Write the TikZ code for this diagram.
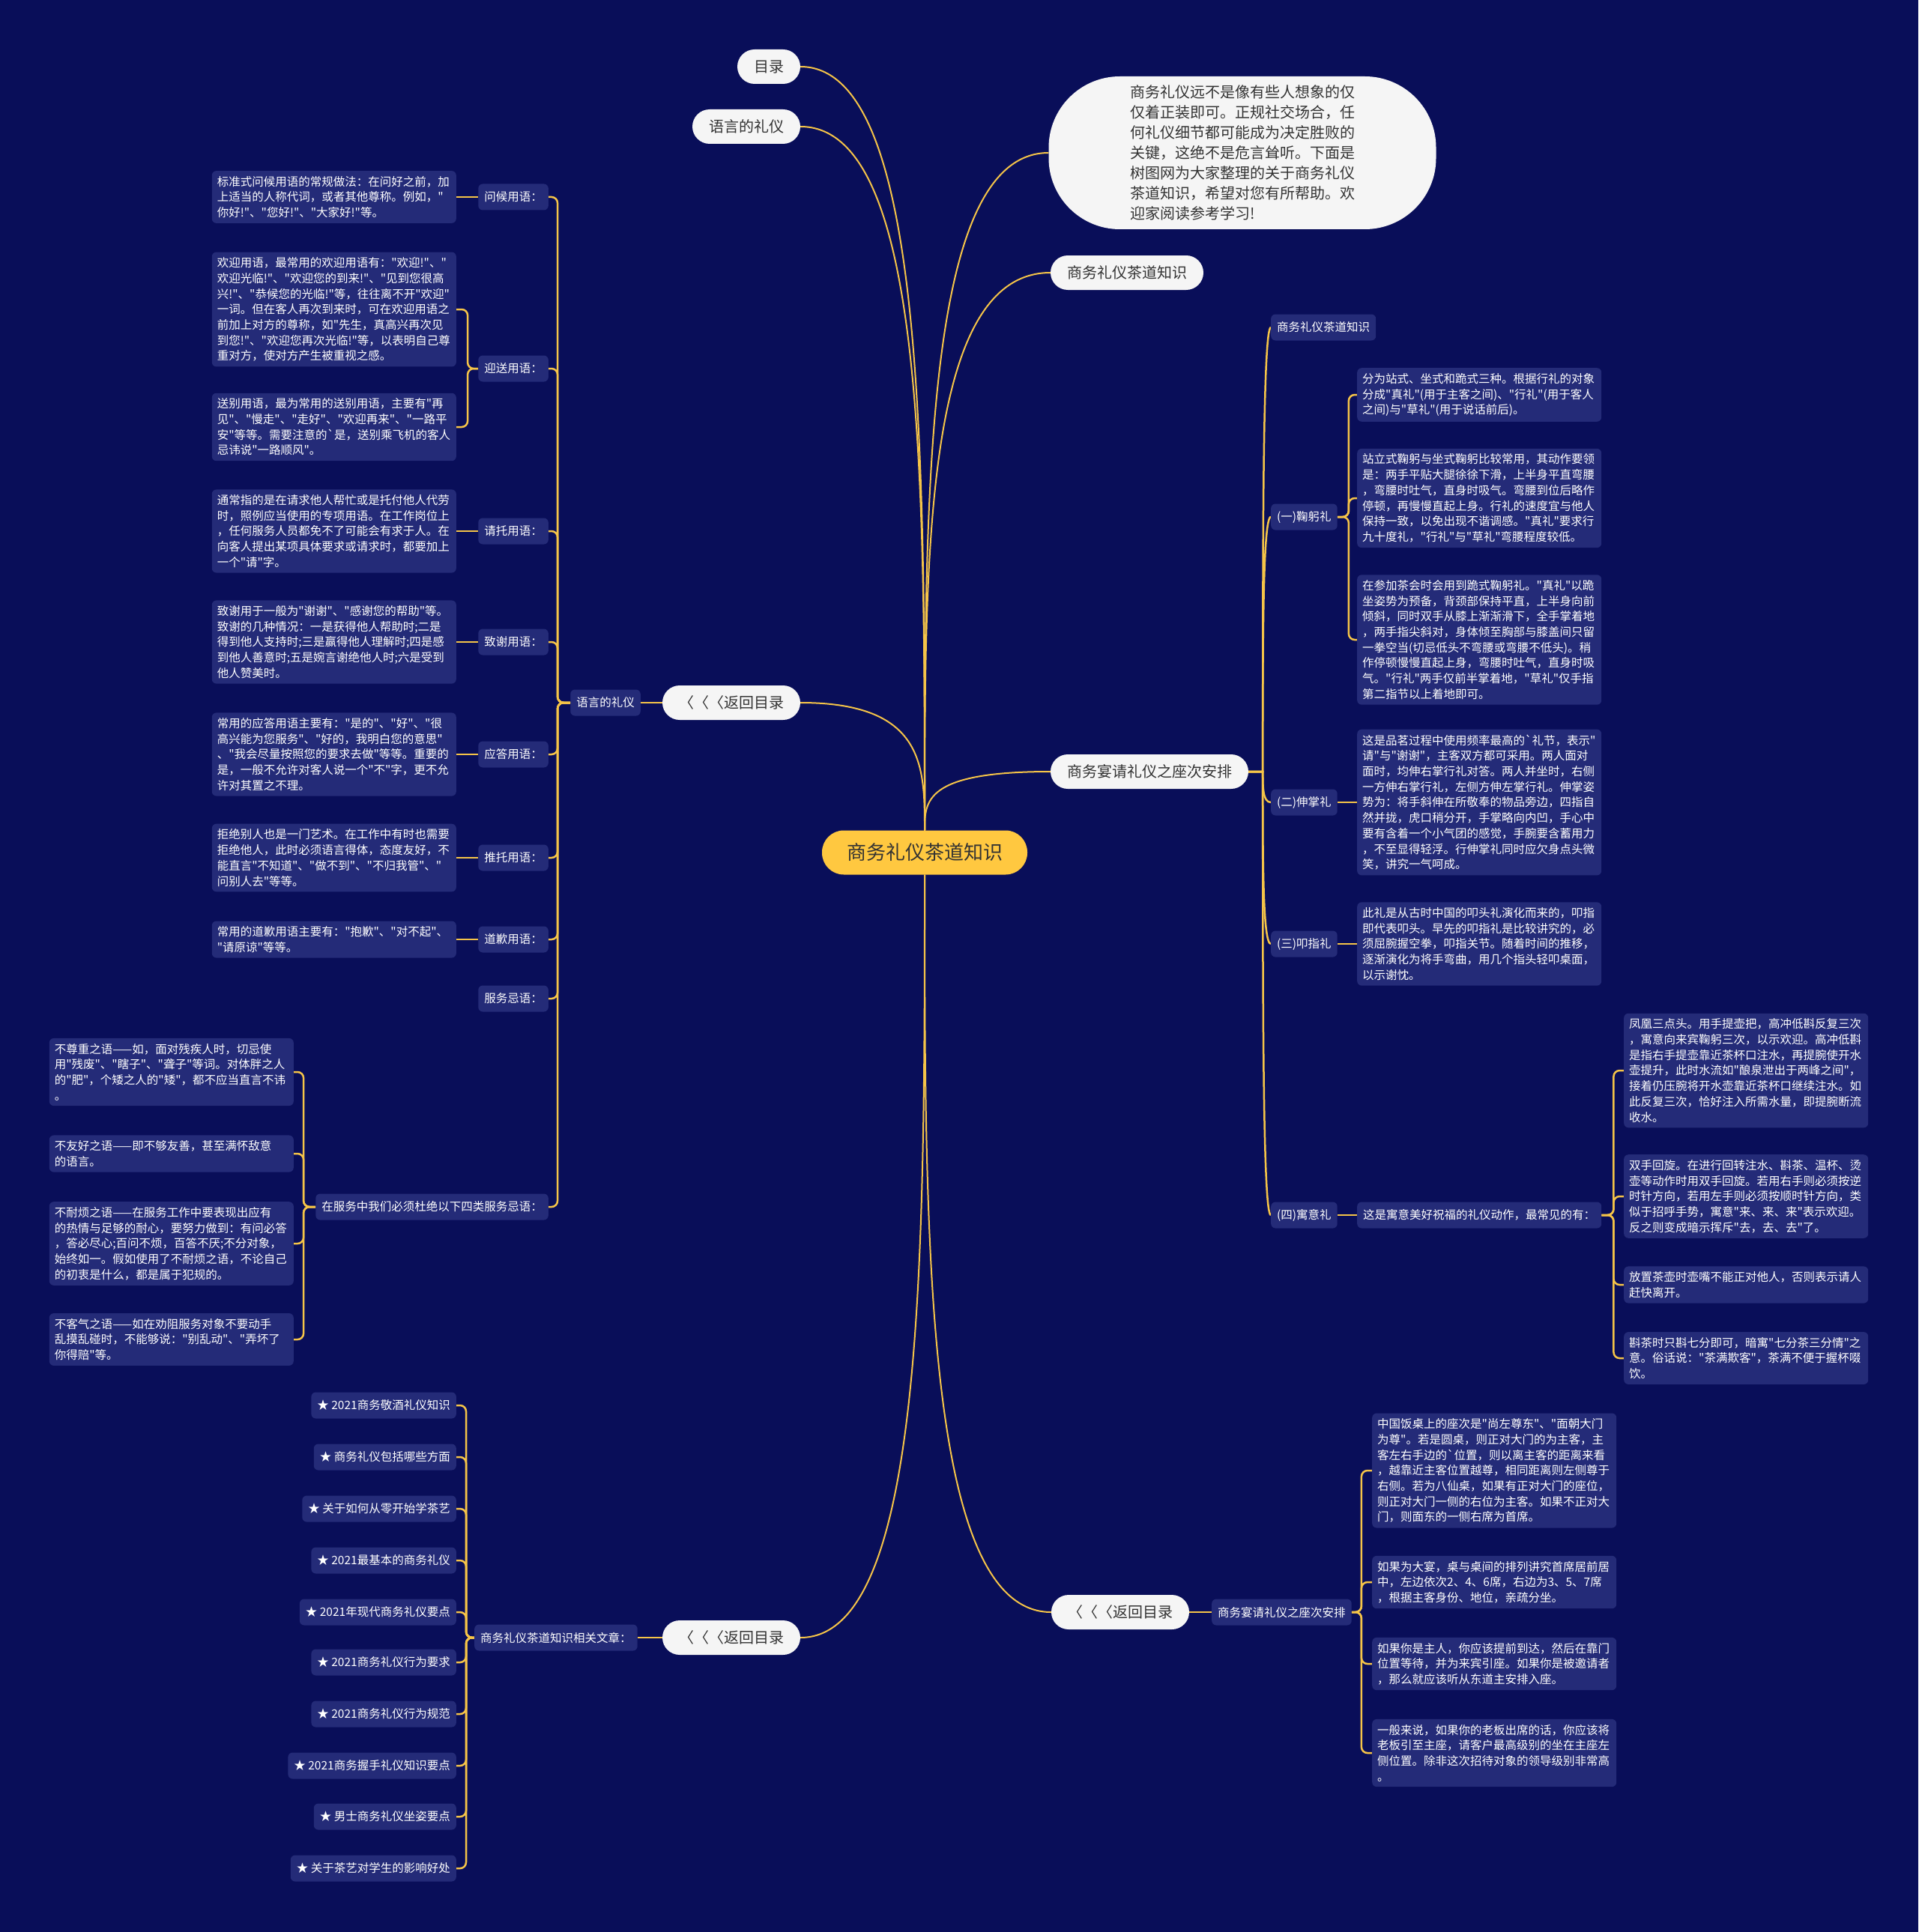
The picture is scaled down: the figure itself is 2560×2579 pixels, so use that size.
\documentclass[tikz,border=0pt]{standalone}
\usepackage{fontspec}
\newfontfamily\cjk{Noto Sans CJK SC}
\usetikzlibrary{calc,backgrounds}
\definecolor{bgc}{RGB}{9,14,89}
\definecolor{boxc}{RGB}{36,43,120}
\definecolor{linec}{RGB}{245,196,72}
\definecolor{ctrc}{RGB}{255,200,64}
\definecolor{pillc}{RGB}{245,245,245}
\definecolor{pilltxt}{RGB}{51,51,51}
\newcommand\fs{\cjk\fontsize{15.5pt}{20.7pt}\selectfont}
\newcommand\ccurve[2]{\draw[conn] (#1) .. controls ($(#1)!0.5!(#1 |- #2)$) and (#1 |- #2) .. (#2);}
\begin{document}
\begin{tikzpicture}[x=1pt,y=-1pt,
 pill/.style={fill=pillc,text=pilltxt,rounded corners=23pt,minimum height=46pt,inner xsep=22pt,inner ysep=0pt,font=\cjk\fontsize{20pt}{24pt}\selectfont},
 lab/.style={fill=boxc,text=white,rounded corners=6pt,minimum height=35pt,inner xsep=8pt,inner ysep=0pt,font=\fs},
 leaf/.style={fill=boxc,text=white,rounded corners=6pt,inner xsep=7pt,inner ysep=7pt,text width=312pt,align=left,font=\fs},
 conn/.style={draw=linec,line width=2pt},
 brk/.style={draw=linec,line width=2.5pt,rounded corners=8pt}]
\useasboundingbox (0,0) rectangle (2560,2579);

% ---------- centre and first level ----------
\node[fill=ctrc,text=pilltxt,rounded corners=29pt,minimum width=274pt,minimum height=59pt,inner sep=0pt,font=\cjk\fontsize{26pt}{30pt}\selectfont] (c) at (1234,1138) {商务礼仪茶道知识};
\node[pill] (ml) at (1026,89) {目录};
\node[pill] (yl) at (996,169) {语言的礼仪};
\node[fill=pillc,text=pilltxt,rounded corners=95pt,minimum width=517pt,minimum height=204pt,inner sep=0pt,text width=300pt,align=left,font=\cjk\fontsize{20pt}{26.9pt}\selectfont] (intro) at (1658,204) {商务礼仪远不是像有些人想象的仅\\仅着正装即可。正规社交场合，任\\何礼仪细节都可能成为决定胜败的\\关键，这绝不是危言耸听。下面是\\树图网为大家整理的关于商务礼仪\\茶道知识，希望对您有所帮助。欢\\迎家阅读参考学习!};
\node[pill] (zs) at (1504,364) {商务礼仪茶道知识};
\node[pill] (fh1) at (976,938) {〈〈〈返回目录};
\node[pill] (sw) at (1534,1030) {商务宴请礼仪之座次安排};
\node[pill] (fh2) at (976,2186) {〈〈〈返回目录};
\node[pill] (fh3) at (1495,2152) {〈〈〈返回目录};

% ---------- left: 语言的礼仪 ----------
\node[lab] (yy) at (808,938) {语言的礼仪};
\node[lab,anchor=east] (l1) at (732,263) {问候用语：};
\node[lab,anchor=east] (l2) at (732,492) {迎送用语：};
\node[lab,anchor=east] (l3) at (732,709) {请托用语：};
\node[lab,anchor=east] (l4) at (732,857) {致谢用语：};
\node[lab,anchor=east] (l5) at (732,1007) {应答用语：};
\node[lab,anchor=east] (l6) at (732,1145) {推托用语：};
\node[lab,anchor=east] (l7) at (732,1254) {道歉用语：};
\node[lab,anchor=east] (l8) at (732,1333) {服务忌语：};
\node[lab,anchor=east] (l9) at (732,1611) {在服务中我们必须杜绝以下四类服务忌语：};

\node[leaf,anchor=east] (a1) at (609,263) {标准式问候用语的常规做法：在问好之前，加\\上适当的人称代词，或者其他尊称。例如，"\\你好!"、"您好!"、"大家好!"等。};
\node[leaf,anchor=east] (a2) at (609,413) {欢迎用语，最常用的欢迎用语有："欢迎!"、"\\欢迎光临!"、"欢迎您的到来!"、"见到您很高\\兴!"、"恭候您的光临!"等，往往离不开"欢迎"\\一词。但在客人再次到来时，可在欢迎用语之\\前加上对方的尊称，如"先生，真高兴再次见\\到您!"、"欢迎您再次光临!"等，以表明自己尊\\重对方，使对方产生被重视之感。};
\node[leaf,anchor=east] (a3) at (609,570) {送别用语，最为常用的送别用语，主要有"再\\见"、"慢走"、"走好"、"欢迎再来"、"一路平\\安"等等。需要注意的`是，送别乘飞机的客人\\忌讳说"一路顺风"。};
\node[leaf,anchor=east] (a4) at (609,709) {通常指的是在请求他人帮忙或是托付他人代劳\\时，照例应当使用的专项用语。在工作岗位上\\，任何服务人员都免不了可能会有求于人。在\\向客人提出某项具体要求或请求时，都要加上\\一个"请"字。};
\node[leaf,anchor=east] (a5) at (609,857) {致谢用于一般为"谢谢"、"感谢您的帮助"等。\\致谢的几种情况：一是获得他人帮助时;二是\\得到他人支持时;三是赢得他人理解时;四是感\\到他人善意时;五是婉言谢绝他人时;六是受到\\他人赞美时。};
\node[leaf,anchor=east] (a6) at (609,1007) {常用的应答用语主要有："是的"、"好"、"很\\高兴能为您服务"、"好的，我明白您的意思"\\、"我会尽量按照您的要求去做"等等。重要的\\是，一般不允许对客人说一个"不"字，更不允\\许对其置之不理。};
\node[leaf,anchor=east] (a7) at (609,1145) {拒绝别人也是一门艺术。在工作中有时也需要\\拒绝他人，此时必须语言得体，态度友好，不\\能直言"不知道"、"做不到"、"不归我管"、"\\问别人去"等等。};
\node[leaf,anchor=east] (a8) at (609,1254) {常用的道歉用语主要有："抱歉"、"对不起"、\\"请原谅"等等。};

\node[leaf,anchor=east] (b1) at (392,1431) {不尊重之语——如，面对残疾人时，切忌使\\用"残废"、"瞎子"、"聋子"等词。对体胖之人\\的"肥"，个矮之人的"矮"，都不应当直言不讳\\。};
\node[leaf,anchor=east] (b2) at (392,1540) {不友好之语——即不够友善，甚至满怀敌意\\的语言。};
\node[leaf,anchor=east] (b3) at (392,1660) {不耐烦之语——在服务工作中要表现出应有\\的热情与足够的耐心，要努力做到：有问必答\\，答必尽心;百问不烦，百答不厌;不分对象，\\始终如一。假如使用了不耐烦之语，不论自己\\的初衷是什么，都是属于犯规的。};
\node[leaf,anchor=east] (b4) at (392,1788) {不客气之语——如在劝阻服务对象不要动手\\乱摸乱碰时，不能够说："别乱动"、"弄坏了\\你得赔"等。};

% ---------- bottom left: related articles ----------
\node[lab,anchor=west] (rel) at (633,2186) {商务礼仪茶道知识相关文章：};
\node[lab,anchor=east] (s1) at (609,1876) {★ 2021商务敬酒礼仪知识};
\node[lab,anchor=east] (s2) at (609,1945) {★ 商务礼仪包括哪些方面};
\node[lab,anchor=east] (s3) at (609,2014) {★ 关于如何从零开始学茶艺};
\node[lab,anchor=east] (s4) at (609,2083) {★ 2021最基本的商务礼仪};
\node[lab,anchor=east] (s5) at (609,2152) {★ 2021年现代商务礼仪要点};
\node[lab,anchor=east] (s6) at (609,2219) {★ 2021商务礼仪行为要求};
\node[lab,anchor=east] (s7) at (609,2288) {★ 2021商务礼仪行为规范};
\node[lab,anchor=east] (s8) at (609,2357) {★ 2021商务握手礼仪知识要点};
\node[lab,anchor=east] (s9) at (609,2425) {★ 男士商务礼仪坐姿要点};
\node[lab,anchor=east] (s10) at (609,2494) {★ 关于茶艺对学生的影响好处};

% ---------- right: 商务宴请礼仪之座次安排 ----------
\coordinate (sb) at ($(sw.east)+(19,0)$);
\node[lab,anchor=west] (r0) at (1696,437) {商务礼仪茶道知识};
\node[lab,anchor=west] (r1) at (1696,690) {(一)鞠躬礼};
\node[lab,anchor=west] (r2) at (1696,1071) {(二)伸掌礼};
\node[lab,anchor=west] (r3) at (1696,1260) {(三)叩指礼};
\node[lab,anchor=west] (r4) at (1696,1622) {(四)寓意礼};

\node[leaf,anchor=west] (c1) at (1811,527) {分为站式、坐式和跪式三种。根据行礼的对象\\分成"真礼"(用于主客之间)、"行礼"(用于客人\\之间)与"草礼"(用于说话前后)。};
\node[leaf,anchor=west] (c2) at (1811,665) {站立式鞠躬与坐式鞠躬比较常用，其动作要领\\是：两手平贴大腿徐徐下滑，上半身平直弯腰\\，弯腰时吐气，直身时吸气。弯腰到位后略作\\停顿，再慢慢直起上身。行礼的速度宜与他人\\保持一致，以免出现不谐调感。"真礼"要求行\\九十度礼，"行礼"与"草礼"弯腰程度较低。};
\node[leaf,anchor=west] (c3) at (1811,854) {在参加茶会时会用到跪式鞠躬礼。"真礼"以跪\\坐姿势为预备，背颈部保持平直，上半身向前\\倾斜，同时双手从膝上渐渐滑下，全手掌着地\\，两手指尖斜对，身体倾至胸部与膝盖间只留\\一拳空当(切忌低头不弯腰或弯腰不低头)。稍\\作停顿慢慢直起上身，弯腰时吐气，直身时吸\\气。"行礼"两手仅前半掌着地，"草礼"仅手指\\第二指节以上着地即可。};
\node[leaf,anchor=west] (d1) at (1811,1071) {这是品茗过程中使用频率最高的`礼节，表示"\\请"与"谢谢"，主客双方都可采用。两人面对\\面时，均伸右掌行礼对答。两人并坐时，右侧\\一方伸右掌行礼，左侧方伸左掌行礼。伸掌姿\\势为：将手斜伸在所敬奉的物品旁边，四指自\\然并拢，虎口稍分开，手掌略向内凹，手心中\\要有含着一个小气团的感觉，手腕要含蓄用力\\，不至显得轻浮。行伸掌礼同时应欠身点头微\\笑，讲究一气呵成。};
\node[leaf,anchor=west] (e1) at (1811,1260) {此礼是从古时中国的叩头礼演化而来的，叩指\\即代表叩头。早先的叩指礼是比较讲究的，必\\须屈腕握空拳，叩指关节。随着时间的推移，\\逐渐演化为将手弯曲，用几个指头轻叩桌面，\\以示谢忱。};
\node[lab,anchor=west] (f0) at (1811,1622) {这是寓意美好祝福的礼仪动作，最常见的有：};
\node[leaf,anchor=west] (f1) at (2167,1429) {凤凰三点头。用手提壶把，高冲低斟反复三次\\，寓意向来宾鞠躬三次，以示欢迎。高冲低斟\\是指右手提壶靠近茶杯口注水，再提腕使开水\\壶提升，此时水流如"酿泉泄出于两峰之间"，\\接着仍压腕将开水壶靠近茶杯口继续注水。如\\此反复三次，恰好注入所需水量，即提腕断流\\收水。};
\node[leaf,anchor=west] (f2) at (2167,1597) {双手回旋。在进行回转注水、斟茶、温杯、烫\\壶等动作时用双手回旋。若用右手则必须按逆\\时针方向，若用左手则必须按顺时针方向，类\\似于招呼手势，寓意"来、来、来"表示欢迎。\\反之则变成暗示挥斥"去，去、去"了。};
\node[leaf,anchor=west] (f3) at (2167,1715) {放置茶壶时壶嘴不能正对他人，否则表示请人\\赶快离开。};
\node[leaf,anchor=west] (f4) at (2167,1813) {斟茶时只斟七分即可，暗寓"七分茶三分情"之\\意。俗话说："茶满欺客"，茶满不便于握杯啜\\饮。};

% ---------- bottom right ----------
\node[lab,anchor=west] (sr) at (1617,2152) {商务宴请礼仪之座次安排};
\node[leaf,anchor=west] (g1) at (1831,1963) {中国饭桌上的座次是"尚左尊东"、"面朝大门\\为尊"。若是圆桌，则正对大门的为主客，主\\客左右手边的`位置，则以离主客的距离来看\\，越靠近主客位置越尊，相同距离则左侧尊于\\右侧。若为八仙桌，如果有正对大门的座位，\\则正对大门一侧的右位为主客。如果不正对大\\门，则面东的一侧右席为首席。};
\node[leaf,anchor=west] (g2) at (1831,2112) {如果为大宴，桌与桌间的排列讲究首席居前居\\中，左边依次2、4、6席，右边为3、5、7席\\，根据主客身份、地位，亲疏分坐。};
\node[leaf,anchor=west] (g3) at (1831,2221) {如果你是主人，你应该提前到达，然后在靠门\\位置等待，并为来宾引座。如果你是被邀请者\\，那么就应该听从东道主安排入座。};
\node[leaf,anchor=west] (g4) at (1831,2340) {一般来说，如果你的老板出席的话，你应该将\\老板引至主座，请客户最高级别的坐在主座左\\侧位置。除非这次招待对象的领导级别非常高\\。};

% ---------- connectors ----------
\begin{scope}[on background layer]
\fill[bgc] (0,0) rectangle (2560,2579);
\ccurve{c.north}{ml.east}
\ccurve{c.north}{yl.east}
\ccurve{c.north}{intro.west}
\ccurve{c.north}{zs.west}
\ccurve{c.north}{fh1.east}
\ccurve{c.north}{sw.west}
\ccurve{c.south}{fh2.east}
\ccurve{c.south}{fh3.west}

\draw[brk] (fh1.west) -- (yy.east);
\foreach \n in {l1,l2,l3,l4,l5,l6,l7,l8,l9} \draw[brk] (yy.west) -- ++(-17,0) |- (\n.east);
\draw[brk] (l1.west) -- (a1.east);
\foreach \n in {a2,a3} \draw[brk] (l2.west) -- ++(-14,0) |- (\n.east);
\draw[brk] (l3.west) -- (a4.east);
\draw[brk] (l4.west) -- (a5.east);
\draw[brk] (l5.west) -- (a6.east);
\draw[brk] (l6.west) -- (a7.east);
\draw[brk] (l7.west) -- (a8.east);
\foreach \n in {b1,b2,b3,b4} \draw[brk] (l9.west) -- ++(-16,0) |- (\n.east);

\draw[brk] (fh2.west) -- (rel.east);
\foreach \n in {s1,s2,s3,s4,s5,s6,s7,s8,s9,s10} \draw[brk] (rel.west) -- ++(-11,0) |- (\n.east);

\foreach \n in {r0,r1,r2,r3,r4} \draw[conn,line width=2.5pt] (sw.east) -- (sb) .. controls ($(sb)!0.5!(sb |- \n.west)$) and (sb |- \n.west) .. (\n.west);
\foreach \n in {c1,c2,c3} \draw[brk] (r1.east) -- ++(15,0) |- (\n.west);
\draw[brk] (r2.east) -- (d1.west);
\draw[brk] (r3.east) -- (e1.west);
\draw[brk] (r4.east) -- (f0.west);
\foreach \n in {f1,f2,f3,f4} \draw[brk] (f0.east) -- ++(16,0) |- (\n.west);

\draw[brk] (fh3.east) -- (sr.west);
\foreach \n in {g1,g2,g3,g4} \draw[brk] (sr.east) -- ++(13,0) |- (\n.west);
\end{scope}
\end{tikzpicture}
\end{document}
